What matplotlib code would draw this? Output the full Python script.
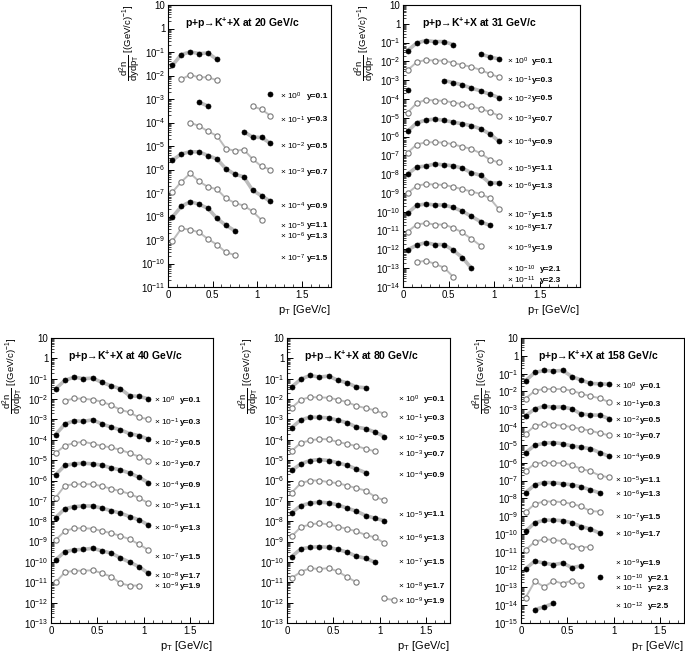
import numpy as np
import matplotlib
matplotlib.use('Agg')
import matplotlib.pyplot as plt
from matplotlib.ticker import (FixedLocator, FuncFormatter, MultipleLocator, LogLocator,
                               NullFormatter)

plt.rcParams.update({
    'font.family': ['Liberation Sans', 'DejaVu Sans'],
    'mathtext.fontset': 'custom',
    'mathtext.rm': 'Liberation Sans',
    'mathtext.it': 'Liberation Sans:italic',
    'mathtext.bf': 'Liberation Sans:bold',
    'mathtext.default': 'regular',
})

# pT bin centres [GeV/c]
PT = [0.05, 0.15, 0.25, 0.35, 0.45, 0.55, 0.65, 0.75, 0.85, 0.95, 1.05, 1.15]
RAP = ['0.1', '0.3', '0.5', '0.7', '0.9', '1.1', '1.3', '1.5', '1.7', '1.9', '2.1', '2.3', '2.5']

# ── 20 GeV/c ─────────────────────────────────────────────
EXP_20 = [0, -1, -2, -3, -4, -5, -6, -7]
SPEC_20 = [
    [0.027, 0.078, 0.10, 0.086, 0.09, 0.048, None, None, None, None, None, 1.7e-3],
    [None, 7.0e-3, 0.0107, 8.3e-3, 8.5e-3, 6.2e-3, None, None, None, 4.9e-4, 3.6e-4, 1.95e-4],
    [None, None, None, 7.2e-4, 5.0e-4, None, None, None, 4.1e-5, 2.4e-5, 2.3e-5, 1.3e-5],
    [None, None, 9.8e-5, 7.1e-5, 4.2e-5, 2.7e-5, 7.8e-6, 6.2e-6, 7.0e-6, 2.8e-6, 1.35e-6, 1.0e-6],
    [2.5e-6, 4.6e-6, 5.7e-6, 5.6e-6, 3.9e-6, 2.8e-6, 1.07e-6, 6.3e-7, 4.9e-7, 1.3e-7, 7.6e-8, 4.4e-8],
    [1.1e-7, 3.0e-7, 6.8e-7, 3.1e-7, 1.8e-7, 1.45e-7, 5.9e-8, 3.8e-8, 2.9e-8, 1.65e-8, 7.1e-9, None],
    [9.5e-9, 2.7e-8, 4.3e-8, 3.3e-8, 2.2e-8, 8.3e-9, 4.2e-9, 2.5e-9, None, None, None, None],
    [9.1e-10, 3.1e-9, 2.75e-9, 2.1e-9, 1.1e-9, 6.3e-10, 3.0e-10, 2.3e-10, None, None, None, None],
]

# ── 31 GeV/c ─────────────────────────────────────────────
EXP_31 = [0, -1, -2, -3, -4, -5, -6, -7, -8, -9, -10, -11]
SPEC_31 = [
    [0.0376, 0.095, 0.128, 0.113, 0.113, 0.078, None, None, 0.025, 0.0174, 0.0135, None],
    [3.4e-3, 9.1e-3, 0.012, 0.011, 0.011, 8.3e-3, 6.5e-3, 5.1e-3, 3.5e-3, 2.2e-3, 1.45e-3, None],
    [3.2e-4, None, None, None, 9.5e-4, 7.5e-4, 5.6e-4, 3.8e-4, 2.7e-4, 1.8e-4, 1.2e-4, None],
    [1.9e-5, 6.0e-5, 9.1e-5, 8.3e-5, 8.0e-5, 6.5e-5, 5.3e-5, 4.0e-5, 3.0e-5, 2.1e-5, 1.3e-5, None],
    [1.9e-6, 5.4e-6, 7.5e-6, 8.5e-6, 7.3e-6, 5.9e-6, 4.8e-6, 3.8e-6, 2.6e-6, 1.4e-6, 5.8e-7, None],
    [1.4e-7, 3.8e-7, 5.0e-7, 5.0e-7, 4.8e-7, 3.9e-7, 2.9e-7, 2.2e-7, 1.3e-7, 6.0e-8, 4.2e-8, None],
    [1.0e-8, 2.4e-8, 2.7e-8, 3.5e-8, 3.1e-8, 2.8e-8, 2.1e-8, 1.2e-8, 8.7e-9, 3.4e-9, 3.4e-9, None],
    [9.8e-10, 2.4e-9, 3.0e-9, 2.8e-9, 2.7e-9, 2.1e-9, 1.6e-9, 1.2e-9, 8.9e-10, 5.4e-10, 1.4e-10, None],
    [8.5e-11, 2.2e-10, 2.6e-10, 2.3e-10, 2.3e-10, 1.7e-10, 1.07e-10, 5.7e-11, 3.0e-11, 1.9e-11, None, None],
    [8.7e-12, 2.1e-11, 2.5e-11, 2.1e-11, 2.1e-11, 1.4e-11, 8.0e-12, 3.6e-12, 1.6e-12, None, None, None],
    [9.3e-13, 1.7e-12, 2.3e-12, 1.8e-12, 1.8e-12, 9.0e-13, 3.7e-13, 1.0e-13, None, None, None, None],
    [None, 2.1e-13, 2.5e-13, 1.7e-13, 1.07e-13, 3.5e-14, None, None, None, None, None, None],
]

# ── 40 GeV/c ─────────────────────────────────────────────
EXP_40 = [0, -1, -2, -3, -4, -5, -6, -7, -8, -9]
SPEC_40 = [
    [0.032, 0.083, 0.12, 0.10, 0.107, 0.066, 0.045, 0.032, 0.0145, 0.0135, 0.0104, None],
    [None, 8.3e-3, 0.0107, 0.0104, 9.3e-3, 7.4e-3, 5.0e-3, 3.0e-3, 2.2e-3, 1.25e-3, 1.05e-3, None],
    [1.8e-4, 5.9e-4, 8.6e-4, 8.0e-4, 9.6e-4, 6.0e-4, 4.2e-4, 3.1e-4, 2.0e-4, 1.6e-4, 1.08e-4, None],
    [2.2e-5, 5.2e-5, 6.9e-5, 8.0e-5, 6.4e-5, 5.0e-5, 4.2e-5, 3.2e-5, 2.2e-5, 1.5e-5, 9.3e-6, None],
    [1.9e-6, 5.5e-6, 6.6e-6, 7.0e-6, 6.6e-6, 5.6e-6, 4.2e-6, 3.3e-6, 2.3e-6, 1.45e-6, 7.9e-7, None],
    [1.45e-7, 5.6e-7, 6.6e-7, 6.5e-7, 6.6e-7, 5.3e-7, 3.9e-7, 3.0e-7, 2.2e-7, 1.4e-7, 7.8e-8, None],
    [1.5e-8, 4.1e-8, 5.2e-8, 5.6e-8, 5.6e-8, 4.4e-8, 3.3e-8, 2.5e-8, 1.7e-8, 1.17e-8, 6.6e-9, None],
    [1.2e-9, 3.3e-9, 4.5e-9, 4.5e-9, 4.3e-9, 3.3e-9, 2.6e-9, 1.9e-9, 1.3e-9, 7.4e-10, 3.9e-10, None],
    [1.26e-10, 3.2e-10, 3.9e-10, 4.1e-10, 4.7e-10, 3.5e-10, 2.7e-10, 1.6e-10, 9.6e-11, 5.9e-11, 2.8e-11, None],
    [1.0e-11, 3.1e-11, 3.7e-11, 3.7e-11, 3.9e-11, 2.8e-11, 1.9e-11, 8.9e-12, 6.9e-12, 6.9e-12, None, None],
]

# ── 80 GeV/c ─────────────────────────────────────────────
EXP_80 = [0, -1, -2, -3, -4, -5, -6, -7, -8, -9]
SPEC_80 = [
    [0.039, 0.096, 0.145, 0.12, 0.135, 0.083, 0.063, 0.039, 0.036, None, None, None],
    [3.7e-3, 9.3e-3, 0.0126, 0.012, 0.0117, 9.3e-3, 7.1e-3, 4.6e-3, 3.6e-3, 2.8e-3, 1.9e-3, None],
    [3.9e-4, 9.6e-4, 1.3e-3, 1.25e-3, 1.2e-3, 9.0e-4, 6.9e-4, 4.2e-4, 3.5e-4, 2.4e-4, 1.45e-4, None],
    [2.8e-5, 7.1e-5, 9.3e-5, 1.1e-4, 1.05e-4, 7.7e-5, 6.3e-5, 4.9e-5, 3.6e-5, 2.7e-5, None, None],
    [3.1e-6, 6.6e-6, 9.6e-6, 1.07e-5, 9.6e-6, 7.4e-6, 5.5e-6, 3.7e-6, 2.4e-6, None, None, None],
    [2.5e-7, 7.4e-7, 1.0e-6, 1.0e-6, 8.3e-7, 7.4e-7, 5.6e-7, 4.2e-7, 3.2e-7, 1.6e-7, 1.05e-7, None],
    [2.6e-8, 5.9e-8, 7.7e-8, 8.6e-8, 8.0e-8, 6.3e-8, 4.4e-8, 3.1e-8, 1.9e-8, 1.4e-8, 1.07e-8, None],
    [1.8e-9, 5.2e-9, 6.9e-9, 8.0e-9, 6.9e-9, 5.4e-9, 4.2e-9, 3.2e-9, 2.1e-9, 1.6e-9, 8.5e-10, None],
    [1.8e-10, 4.4e-10, 5.2e-10, 5.6e-10, 5.2e-10, 4.1e-10, 3.0e-10, 1.9e-10, 1.5e-10, 9.6e-11, None, None],
    [1.6e-11, 3.3e-11, 4.9e-11, 4.5e-11, 5.0e-11, 3.4e-11, 1.8e-11, 1.0e-11, None, None, 1.6e-12, 1.35e-12],
]

# ── 158 GeV/c ────────────────────────────────────────────
EXP_158 = [0, -1, -2, -3, -4, -5, -6, -7, -8, -9, -10, -11, -12]
SPEC_158 = [
    [0.04, 0.117, 0.15, 0.14, 0.15, 0.068, 0.044, 0.028, 0.027, 0.025, None, None],
    [4.0e-3, 0.011, 0.0137, 0.0137, 0.0137, 0.011, 7.5e-3, 5.4e-3, 4.2e-3, 2.5e-3, None, None],
    [4.3e-4, 1.05e-3, 1.47e-3, 1.3e-3, 1.35e-3, 1.05e-3, 5.4e-4, 4.8e-4, 4.6e-4, 3.0e-4, None, None],
    [4.1e-5, 1.2e-4, 1.47e-4, 1.35e-4, 1.2e-4, 1.0e-4, 7.8e-5, 6.3e-5, 4.5e-5, 3.5e-5, None, None],
    [3.7e-6, 9.5e-6, 1.23e-5, 1.35e-5, 1.15e-5, 8.7e-6, 7.3e-6, 6.2e-6, 3.7e-6, 2.3e-6, None, None],
    [3.4e-7, 9.0e-7, 1.0e-6, 9.5e-7, 9.5e-7, 7.2e-7, 4.5e-7, 3.3e-7, 1.9e-7, 1.5e-7, None, None],
    [2.1e-8, 5.7e-8, 7.7e-8, 7.5e-8, 6.5e-8, 5.7e-8, 4.4e-8, 3.0e-8, 2.0e-8, None, None, None],
    [1.65e-9, 4.9e-9, 6.6e-9, 6.6e-9, 6.1e-9, 4.9e-9, 3.5e-9, 1.9e-9, 1.8e-9, None, None, None],
    [1.4e-10, 4.3e-10, 5.9e-10, 5.9e-10, 5.6e-10, 4.2e-10, 2.6e-10, 1.9e-10, 1.1e-10, None, None, None],
    [1.26e-11, 3.7e-11, 5.0e-11, 4.6e-11, 3.9e-11, 2.2e-11, 1.7e-11, 1.9e-11, None, None, None, None],
    [1.12e-12, 3.0e-12, 2.3e-12, 1.9e-12, 2.3e-12, 1.3e-12, 1.6e-12, None, 3.6e-13, None, None, None],
    [2.7e-14, 2.2e-13, 1.07e-13, 2.3e-13, 1.65e-13, 2.4e-13, 1.35e-13, None, None, None, None, None],
    [None, 5.7e-15, 8.1e-15, 1.26e-14, None, None, None, None, None, None, None, None],
]

# layout: axes box in px (left, right, top, bottom), x max, lowest decade,
# label columns in data x (×10^n, y=..), label heights (log10)
W, H = 685, 656
PANELS = [
    dict(p='20', spec=SPEC_20, exp=EXP_20, px=(168, 331, 5, 287), xmax=1.83, ymin=-11,
         lx=(1.26, 1.56), ly=[-2.9, -3.89, -5.0, -6.14, -7.57, -8.40, -8.84, -9.8]),
    dict(p='31', spec=SPEC_31, exp=EXP_31, px=(403, 580, 5, 287), xmax=1.94, ymin=-14,
         lx=(1.145, 1.41), ly=[-2.0, -3.0, -4.0, -5.1, -6.3, -7.72, -8.66, -10.19, -10.86,
                               -11.95, -13.05, -13.65]),
    dict(p='40', spec=SPEC_40, exp=EXP_40, px=(51, 213, 338, 623), xmax=1.75, ymin=-13,
         lx=(1.11, 1.39), ly=[-2.08, -3.15, -4.16, -5.23, -6.25, -7.28, -8.34, -9.77, -10.72,
                              -11.21]),
    dict(p='80', spec=SPEC_80, exp=EXP_80, px=(287, 450, 338, 623), xmax=1.76, ymin=-13,
         lx=(1.2, 1.48), ly=[-2.02, -2.93, -3.92, -4.72, -5.75, -7.69, -8.84, -10.02, -11.21,
                             -11.95]),
    dict(p='158', spec=SPEC_158, exp=EXP_158, px=(521, 684, 338, 623), xmax=1.76, ymin=-15,
         lx=(1.01, 1.28), ly=[-1.7, -2.74, -3.65, -4.52, -5.69, -7.0, -7.8, -9.08, -10.04,
                              -11.65, -12.5, -13.05, -14.05]),
]


def log_fmt(v, pos):
    k = int(round(np.log10(v)))
    if k == 1:
        return '10'
    if k == 0:
        return '1'
    return '10$^{%d}$' % k


fig = plt.figure(figsize=(W / 100, H / 100), dpi=100)

for pan in PANELS:
    l, r, t, b = pan['px']
    ax = fig.add_axes([l / W, 1 - b / H, (r - l) / W, (b - t) / H])
    ax.set_yscale('log')
    pt = np.array(PT)
    for i, row in enumerate(pan['spec']):
        y = np.array(row, dtype=float)
        filled = (i % 2 == 0)
        ax.plot(pt, y, '-', color='#bcbcbc', lw=2.6 if filled else 1.4, zorder=1,
                solid_capstyle='round')
        if filled:
            ax.plot(pt, y, 'o', ms=3.6, mfc='black', mec='black', mew=0.5, zorder=3)
        else:
            ax.plot(pt, y, 'o', ms=3.8, mfc='white', mec='#7a7a7a', mew=0.8, zorder=3)

    ax.set_xlim(0, pan['xmax'])
    ax.set_ylim(10.0 ** pan['ymin'], 10)
    ax.yaxis.set_major_locator(FixedLocator([10.0 ** k for k in range(pan['ymin'], 2)]))
    ax.yaxis.set_minor_locator(LogLocator(base=10, subs=np.arange(2, 10), numticks=40))
    ax.yaxis.set_minor_formatter(NullFormatter())
    ax.yaxis.set_major_formatter(FuncFormatter(log_fmt))
    ax.xaxis.set_major_locator(FixedLocator([0, 0.5, 1, 1.5]))
    ax.xaxis.set_major_formatter(FuncFormatter(lambda v, p: '%g' % v))
    ax.xaxis.set_minor_locator(MultipleLocator(0.1))
    ax.tick_params(which='both', direction='in', labelsize=7, pad=2)
    ax.tick_params(which='major', length=4.5, width=0.7)
    ax.tick_params(which='minor', length=2, width=0.5)
    for s in ax.spines.values():
        s.set_linewidth(0.8)

    ax.text(0.105, 0.935, 'p+p\u2192K$^{+}$+X at %s GeV/c' % pan['p'], transform=ax.transAxes,
            fontsize=7.5, fontweight='bold', ha='left', va='center')
    ax.set_ylabel(r'$\dfrac{d^{2}n}{dydp_{T}}$ [(GeV/c)$^{-1}$]', loc='top', fontsize=6.8)
    ax.yaxis.set_label_coords(-25.0 / (r - l), 1.0)
    ax.set_xlabel('p$_{T}$ [GeV/c]', loc='right', fontsize=8, labelpad=2)

    xa, xb = pan['lx']
    for k, (e, yl) in enumerate(zip(pan['exp'], pan['ly'])):
        ax.text(xa, 10.0 ** yl, '\u00d7 10$^{%d}$' % e, fontsize=6, va='center', ha='left')
        shift = 0.09 if e <= -10 else 0.0
        ax.text(xb + shift, 10.0 ** yl, 'y=' + RAP[k], fontsize=6, fontweight='bold',
                va='center', ha='left')

fig.savefig('out.png', dpi=100)
